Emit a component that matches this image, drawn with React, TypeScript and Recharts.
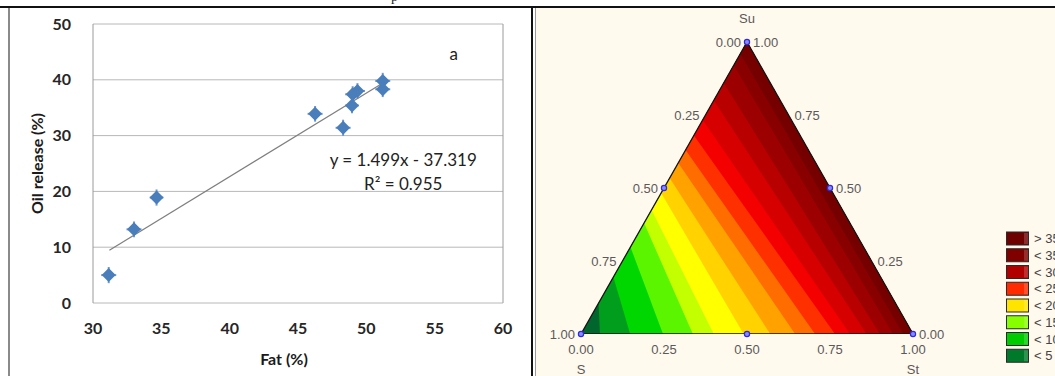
import React from "react";
import {
  ScatterChart,
  Scatter,
  ComposedChart,
  Area,
  XAxis,
  YAxis,
  CartesianGrid,
  ErrorBar,
  ReferenceLine,
  ReferenceDot,
  Legend,
} from "recharts";

// ---- panel a : oil release vs fat ----
const fat = [31.15, 33.0, 34.65, 46.25, 48.3, 48.95, 49.0, 49.35, 51.2, 51.2];
const oil = [5.0, 13.2, 18.9, 33.9, 31.4, 35.4, 37.4, 38.0, 39.8, 38.3];
const fatErr = [0.55, 0.55, 0.5, 0.55, 0.55, 0.5, 0.55, 0.55, 0.55, 0.55];
const oilErr = [1.45, 1.4, 1.45, 1.4, 1.45, 1.4, 1.45, 1.4, 1.45, 1.4];
const fatTicks = [30, 35, 40, 45, 50, 55, 60];
const oilTicks = [0, 10, 20, 30, 40, 50];
const fitSlope = 1.499;
const fitIntercept = -37.319;
const fitFrom = 31.2;
const fitTo = 51.3;

// ---- panel b : ternary contour (S, St, Su) ----
const bandColors = [
  "#00662e", "#009e1c", "#00d600", "#5cf500", "#c4ff00", "#ffff00",
  "#ffd200", "#ffa200", "#ff6c00", "#ff3000", "#f50000", "#d60000",
  "#b80000", "#9c0000", "#880000", "#760000",
];
// where each contour meets the S–St edge (St fraction) and the S–Su edge (Su fraction)
const bottomCuts = [0.057, 0.148, 0.247, 0.337, 0.4, 0.49, 0.57, 0.645, 0.705, 0.765, 0.81, 0.86, 0.9, 0.94, 0.97];
const leftCuts = [0.106, 0.195, 0.298, 0.38, 0.425, 0.483, 0.534, 0.586, 0.63, 0.68, 0.733, 0.8, 0.86, 0.92, 0.96];
const edgeTicks = [0, 0.25, 0.5, 0.75, 1];
const legendLabels = ["> 35", "< 35", "< 30", "< 25", "< 20", "< 15", "< 10", "< 5"];
const legendColors = ["#6e0000", "#800000", "#b00000", "#ff2a00", "#ffe400", "#88ff00", "#00cc00", "#007a2a"];

const points = fat.map((x, i) => ({ x, y: oil[i], ex: fatErr[i], ey: oilErr[i] }));
const fitLine = [fitFrom, fitTo].map((x) => ({ x, y: fitSlope * x + fitIntercept }));

type P = { x: number; y: number };
const toXY = (st: number, su: number): P => ({ x: st + su / 2, y: su });
const S_PT = toXY(0, 0);
const SU_PT = toXY(0, 1);
const ST_PT = toXY(1, 0);

function sliceAt(poly: P[], x: number): [number, number] {
  let lo = Infinity;
  let hi = -Infinity;
  for (let k = 0; k < poly.length; k++) {
    const a = poly[k];
    const b = poly[(k + 1) % poly.length];
    if (x < Math.min(a.x, b.x) - 1e-9 || x > Math.max(a.x, b.x) + 1e-9) continue;
    if (Math.abs(b.x - a.x) < 1e-9) {
      lo = Math.min(lo, a.y, b.y);
      hi = Math.max(hi, a.y, b.y);
      continue;
    }
    const y = a.y + ((b.y - a.y) * (x - a.x)) / (b.x - a.x);
    lo = Math.min(lo, y);
    hi = Math.max(hi, y);
  }
  return [lo, hi];
}

function areaData(poly: P[]) {
  const xs = Array.from(new Set(poly.map((p) => p.x))).sort((a, b) => a - b);
  return xs.map((x) => ({ x, range: sliceAt(poly, x) }));
}

const bandPolys: P[][] = bandColors.map((_, i) =>
  i === 0
    ? [S_PT, SU_PT, ST_PT]
    : [toXY(0, leftCuts[i - 1]), SU_PT, ST_PT, toXY(bottomCuts[i - 1], 0)]
);

const markers = [
  toXY(0, 0), toXY(0, 1), toXY(1, 0), toXY(0, 0.5), toXY(0.5, 0.5), toXY(0.5, 0),
];

const axisFont = { fontFamily: "Lato, 'Liberation Sans', sans-serif" };
const ternFont = { fontFamily: "'Liberation Sans', Arial, sans-serif", fontSize: 13, fill: "#5a5a5a" };

function Diamond(props: any) {
  const { cx, cy } = props;
  const r = 7;
  return (
    <polygon
      points={`${cx},${cy - r} ${cx + r},${cy} ${cx},${cy + r} ${cx - r},${cy}`}
      fill="#4a7ebb"
    />
  );
}

function TernLegend() {
  return (
    <svg width={49} height={140}>
      {legendLabels.map((t, i) => {
        const y = 1 + i * 16.75;
        return (
          <g key={t}>
            <rect x={0.5} y={y} width={22} height={13} fill={legendColors[i]} stroke="#2a2a2a" />
            <rect x={18} y={y + 1} width={4} height={11} fill="#ffffff" opacity={0.18} />
            <text x={28} y={y + 11} {...ternFont} fill="#444">
              {t}
            </text>
          </g>
        );
      })}
    </svg>
  );
}

function OilChart() {
  return (
    <ScatterChart width={530} height={376} margin={{ top: 24, right: 27, bottom: 0, left: 0 }}>
      <CartesianGrid vertical={false} stroke="#b8b8b8" />
      <XAxis
        type="number"
        dataKey="x"
        domain={[30, 60]}
        ticks={fatTicks}
        height={73}
        axisLine={false}
        tickLine={false}
        tickMargin={14}
        tick={{ ...axisFont, fontSize: 16, fontWeight: 700, fill: "#262626" }}
        label={{
          content: (p: any) => (
            <text
              x={p.viewBox.x + p.viewBox.width / 2 - 14}
              y={p.viewBox.y + 55}
              textAnchor="middle"
              dominantBaseline="central"
              {...axisFont}
              fontSize={16}
              fontWeight={700}
              fill="#1a1a1a"
            >
              Fat (%)
            </text>
          ),
        }}
      />
      <YAxis
        type="number"
        dataKey="y"
        domain={[0, 50]}
        ticks={oilTicks}
        width={93}
        axisLine={{ stroke: "#9a9a9a" }}
        tickLine={false}
        tickMargin={16}
        tick={{ ...axisFont, fontSize: 16, fontWeight: 700, fill: "#262626" }}
        label={{
          content: (p: any) => {
            const cx = 36;
            const cy = p.viewBox.y + p.viewBox.height / 2;
            return (
              <text
                x={cx}
                y={cy}
                transform={`rotate(-90, ${cx}, ${cy})`}
                textAnchor="middle"
                dominantBaseline="central"
                {...axisFont}
                fontSize={16}
                fontWeight={700}
                fill="#1a1a1a"
              >
                Oil release (%)
              </text>
            );
          },
        }}
      />
      <ReferenceLine x={60} stroke="#9a9a9a" />
      <Scatter
        data={fitLine}
        line={{ stroke: "#7f7f7f", strokeWidth: 1.2 }}
        shape={() => <g />}
        isAnimationActive={false}
      />
      <Scatter data={points} shape={Diamond} isAnimationActive={false}>
        <ErrorBar dataKey="ex" direction="x" width={0} stroke="#6a9ad6" strokeWidth={2} />
        <ErrorBar dataKey="ey" direction="y" width={0} stroke="#6a9ad6" strokeWidth={2} />
      </Scatter>
      <ReferenceDot
        x={52.7}
        y={25.6}
        r={0}
        fill="none"
        stroke="none"
        label={{ value: "y = 1.499x - 37.319", position: "center", ...axisFont, fontSize: 17, fill: "#222" }}
      />
      <ReferenceDot
        x={52.7}
        y={21.4}
        r={0}
        fill="none"
        stroke="none"
        label={{ value: "R² = 0.955", position: "center", ...axisFont, fontSize: 17, fill: "#222" }}
      />
      <ReferenceDot
        x={56.4}
        y={44.6}
        r={0}
        fill="none"
        stroke="none"
        label={{ value: "a", position: "center", ...axisFont, fontSize: 17, fill: "#222" }}
      />
    </ScatterChart>
  );
}

function TernaryChart() {
  const outline = areaData(bandPolys[0]);
  return (
    <ComposedChart width={519} height={376} margin={{ top: 42, right: 142, bottom: 12, left: 45 }}>
      <XAxis
        type="number"
        dataKey="x"
        domain={[0, 1]}
        ticks={edgeTicks}
        tickFormatter={(v: number) => v.toFixed(2)}
        axisLine={false}
        tickLine={false}
        tickMargin={5}
        height={30}
        tick={ternFont}
        allowDataOverflow
      />
      <YAxis type="number" domain={[0, 1]} hide allowDataOverflow />
      {bandPolys.map((poly, i) => (
        <Area
          key={i}
          data={areaData(poly)}
          dataKey="range"
          type="linear"
          fill={bandColors[i]}
          fillOpacity={1}
          stroke="none"
          isAnimationActive={false}
          dot={false}
          activeDot={false}
        />
      ))}
      <Area
        data={outline}
        dataKey="range"
        type="linear"
        fill="none"
        stroke="#151515"
        strokeWidth={1.3}
        isAnimationActive={false}
        dot={false}
        activeDot={false}
      />
      {edgeTicks.map((v) => {
        const p = toXY(0, 1 - v);
        return (
          <ReferenceDot
            key={"l" + v}
            x={p.x}
            y={p.y}
            r={3}
            fill="none"
            stroke="none"
            ifOverflow="visible"
            label={{ value: v.toFixed(2), position: "left", offset: 3, ...ternFont }}
          />
        );
      })}
      {edgeTicks.map((v) => {
        const p = toXY(1 - v, v);
        return (
          <ReferenceDot
            key={"r" + v}
            x={p.x}
            y={p.y}
            r={3}
            fill="none"
            stroke="none"
            ifOverflow="visible"
            label={{ value: v.toFixed(2), position: "right", offset: 3, ...ternFont }}
          />
        );
      })}
      {markers.map((p, i) => (
        <ReferenceDot
          key={"m" + i}
          x={p.x}
          y={p.y}
          r={2.6}
          fill="#8a8aff"
          stroke="#2a2ae0"
          strokeWidth={1.2}
          ifOverflow="visible"
        />
      ))}
      <ReferenceDot
        x={SU_PT.x}
        y={SU_PT.y}
        r={3}
        fill="none"
        stroke="none"
        ifOverflow="visible"
        label={{ value: "Su", position: "top", offset: 16, ...ternFont }}
      />
      <ReferenceDot
        x={S_PT.x}
        y={S_PT.y}
        r={3}
        fill="none"
        stroke="none"
        ifOverflow="visible"
        label={{ value: "S", position: "bottom", offset: 28, ...ternFont }}
      />
      <ReferenceDot
        x={ST_PT.x}
        y={ST_PT.y}
        r={3}
        fill="none"
        stroke="none"
        ifOverflow="visible"
        label={{ value: "St", position: "bottom", offset: 28, ...ternFont }}
      />
      <Legend
        layout="vertical"
        align="center"
        verticalAlign="middle"
        content={() => <TernLegend />}
        wrapperStyle={{ left: 470, top: 231, width: 49 }}
      />
    </ComposedChart>
  );
}

export default function App() {
  return (
    <div style={{ position: "absolute", left: 0, top: 0, width: 1055, height: 376, background: "#fff", overflow: "hidden" }}>
      <div style={{ position: "absolute", left: 536, top: 8, width: 519, height: 368, background: "#fff9ee" }} />
      <div style={{ position: "absolute", left: 0, top: 0 }}>
        <OilChart />
      </div>
      <div style={{ position: "absolute", left: 536, top: 0 }}>
        <TernaryChart />
      </div>
      <div style={{ position: "absolute", left: 0, top: 6, width: 1055, height: 2, background: "#111" }} />
      <div style={{ position: "absolute", left: 8, top: 8, width: 2, height: 368, background: "#8a8a8a" }} />
      <div style={{ position: "absolute", left: 531, top: 8, width: 2, height: 368, background: "#111" }} />
      <div style={{ position: "absolute", left: 535, top: 8, width: 1, height: 368, background: "#9a9a9a" }} />
      <div
        style={{
          position: "absolute",
          left: 391,
          top: -11,
          fontFamily: "'Liberation Serif', serif",
          fontSize: 14,
          color: "#222",
        }}
      >
        p
      </div>
    </div>
  );
}
